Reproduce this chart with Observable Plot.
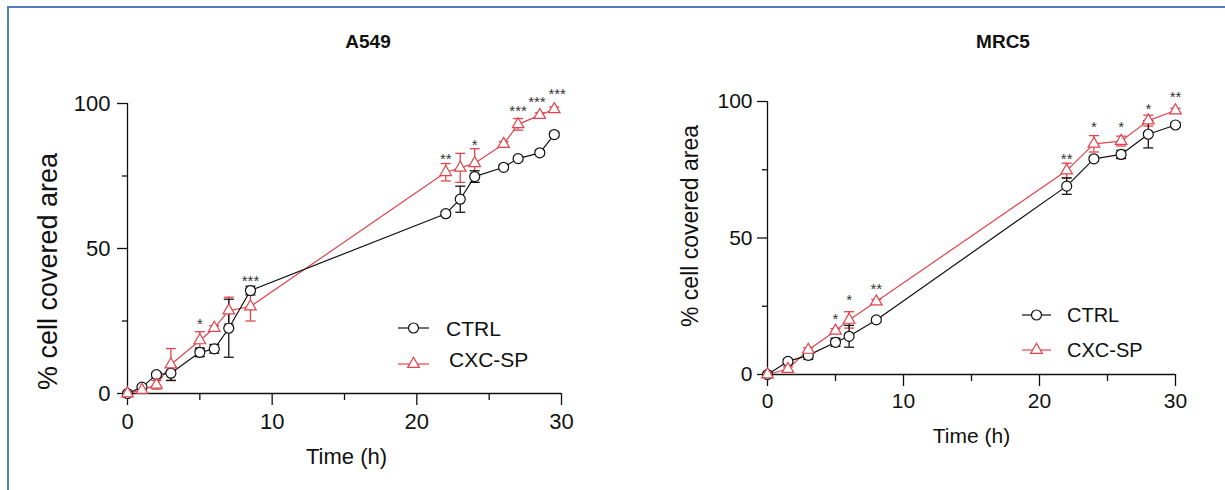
<!DOCTYPE html>
<html><head><meta charset="utf-8">
<script src="https://cdn.jsdelivr.net/npm/d3@7"></script>
<script src="https://cdn.jsdelivr.net/npm/@observablehq/plot@0.6"></script>
<style>
body{margin:0;background:#fff;font-family:Arial,"Liberation Sans",sans-serif;}
#page{position:relative;width:1225px;height:490px;overflow:hidden;background:#fff;}
#border{position:absolute;left:7px;top:6px;width:1300px;height:600px;border-left:2px solid #4f7fbf;border-top:2px solid #4f7fbf;}
.panel{position:absolute;top:0;}
.title{position:absolute;font-weight:bold;font-size:19px;line-height:1;transform:translateX(-50%);color:#111;}
.leg{position:absolute;line-height:1;transform:translateY(-50%);color:#111;white-space:nowrap;}
.sw{position:absolute;}
</style></head>
<body><div id="page"><div id="border"></div></div>
<script>
// ---------- data: A549 ----------
const timeA = [0, 1, 2, 3, 5, 6, 7, 8.5, 22, 23, 24, 26, 27, 28.5, 29.5];
const ctrlA = [0, 2.2, 6.5, 7, 14.2, 15.4, 22.5, 35.5, 62, 67, 74.8, 78, 81, 83, 89.3];
const ctrlAErr = [0, 0.8, 0.8, 2.5, 1.5, 1.5, 10, 1.5, 0.8, 4.5, 2, 0.8, 0.8, 0.8, 0.8];
const cxcA = [0, 1.2, 3, 10, 18.3, 22.6, 28.6, 30, 76.3, 77.8, 79.4, 86, 92.8, 96, 98];
const cxcAErr = [0, 0.5, 1.5, 5.5, 3, 0.8, 4.6, 5, 3, 5, 5, 0.8, 2, 0.8, 0.8];
const starTimeA = [5, 8.5, 22, 24, 27, 28.3, 29.7];
const starTextA = ["*", "***", "**", "*", "***", "***", "***"];
const starLevelA = [25.4, 40.1, 82.1, 86.9, 98.9, 101.9, 104.5];

// ---------- data: MRC5 ----------
const timeM = [0, 1.5, 3, 5, 6, 8, 22, 24, 26, 28, 30];
const ctrlM = [0, 4.8, 7, 11.8, 14, 20, 69, 79, 80.6, 88, 91.4];
const ctrlMErr = [0, 0.8, 1.5, 1.5, 4, 0.8, 3, 0.8, 1.5, 5, 0.8];
const cxcM = [0, 2, 9, 16, 20, 26.7, 74.7, 84.5, 85.5, 93, 96.7];
const cxcMErr = [0, 0.8, 0.8, 0.8, 3, 0.8, 2.7, 3, 1.8, 2, 0.8];
const starTimeM = [5, 6, 8, 22, 24, 26, 28, 30];
const starTextM = ["*", "*", "**", "**", "*", "*", "*", "**"];
const starLevelM = [21.9, 28.7, 32.6, 80.2, 92, 92, 98.5, 103.2];

const xTicks = [0, 10, 20, 30];
const xMinor = [5, 15, 25];
const yTicks = [0, 50, 100];
const yMinor = [25, 75];
const seriesNames = ["CTRL", "CXC-SP"];

const BLACK = "#111";
const RED = "#e2434b";
const FONT = "Arial, 'Liberation Sans', sans-serif";

const capSymbol = {draw(ctx) { ctx.moveTo(-5, 0); ctx.lineTo(5, 0); }};

function rows(t, v, e) { return t.map((d, i) => ({t: d, v: v[i], e: e[i]})); }

function seriesMarks(data, color) {
  const withErr = data.filter(d => d.e > 0);
  return [
    Plot.line(data, {x: "t", y: "v", stroke: color, strokeWidth: 1.2}),
    Plot.ruleX(withErr, {x: "t", y1: d => d.v - d.e, y2: d => d.v + d.e, stroke: color, strokeWidth: 1.3}),
    Plot.dot(withErr, {x: "t", y: d => d.v + d.e, symbol: capSymbol, stroke: color, fill: "none", strokeWidth: 1.3}),
    Plot.dot(withErr, {x: "t", y: d => d.v - d.e, symbol: capSymbol, stroke: color, fill: "none", strokeWidth: 1.3})
  ];
}
function dotMarks(data, color, symbol, r) {
  return Plot.dot(data, {x: "t", y: "v", symbol, r, stroke: color, fill: "white", strokeWidth: 1.2});
}

function panel(cfg) {
  const ctrl = rows(cfg.time, cfg.ctrl, cfg.ctrlErr);
  const cxc = rows(cfg.time, cfg.cxc, cfg.cxcErr);
  const stars = cfg.starTime.map((t, i) => ({t, s: cfg.starText[i], y: cfg.starLevel[i]}));
  return Plot.plot({
    width: cfg.width, height: 490,
    marginLeft: cfg.ml, marginRight: cfg.mr, marginTop: cfg.mt, marginBottom: cfg.mb,
    x: {domain: [0, 30]},
    y: {domain: [0, 100]},
    style: {fontFamily: FONT, background: "transparent", overflow: "visible", color: BLACK},
    marks: [
      Plot.ruleX([0], {stroke: BLACK, strokeWidth: 1.3}),
      Plot.ruleY([0], {stroke: BLACK, strokeWidth: 1.3}),
      Plot.axisY({ticks: yTicks, tickSize: 10, tickPadding: cfg.yPad, fontSize: cfg.tickFont, label: null, stroke: BLACK, strokeWidth: 1.3}),
      Plot.axisY({ticks: yMinor, tickSize: 5, tickFormat: () => "", label: null, stroke: BLACK, strokeWidth: 1.3}),
      Plot.axisX({ticks: xTicks, tickSize: 12, tickPadding: cfg.xPad, fontSize: cfg.tickFont, label: null, stroke: BLACK, strokeWidth: 1.3}),
      Plot.axisX({ticks: xMinor, tickSize: 7, tickFormat: () => "", label: null, stroke: BLACK, strokeWidth: 1.3}),
      Plot.text(["Time (h)"], {text: d => d, frameAnchor: "bottom", lineAnchor: "top", dy: cfg.xLabDy, dx: cfg.xLabDx, fontSize: cfg.xLabFont, fill: BLACK}),
      Plot.text(["% cell covered area"], {text: d => d, frameAnchor: "left", textAnchor: "middle", rotate: -90, dx: cfg.yLabDx, dy: cfg.yLabDy, fontSize: cfg.yLabFont, fill: BLACK}),
      ...seriesMarks(cxc, RED),
      ...seriesMarks(ctrl, BLACK),
      dotMarks(ctrl, BLACK, "circle", 5),
      dotMarks(cxc, RED, "triangle", 4.3),
      Plot.text(stars, {x: "t", y: "y", text: "s", fontSize: 15, fill: "#333", dy: 4})
    ]
  });
}

const page = document.getElementById("page");

function place(el, left) {
  const d = document.createElement("div");
  d.className = "panel";
  d.style.left = left + "px";
  d.appendChild(el);
  page.appendChild(d);
}

place(panel({
  time: timeA, ctrl: ctrlA, ctrlErr: ctrlAErr, cxc: cxcA, cxcErr: cxcAErr,
  starTime: starTimeA, starText: starTextA, starLevel: starLevelA,
  width: 612, ml: 127, mr: 51, mt: 103, mb: 97,
  tickFont: 22, yPad: 7, xPad: 8,
  xLabDy: 55, xLabDx: 2, xLabFont: 22,
  yLabDx: -79, yLabDy: 23, yLabFont: 27
}), 0);

place(panel({
  time: timeM, ctrl: ctrlM, ctrlErr: ctrlMErr, cxc: cxcM, cxcErr: cxcMErr,
  starTime: starTimeM, starText: starTextM, starLevel: starLevelM,
  width: 613, ml: 155, mr: 50, mt: 101, mb: 116,
  tickFont: 21, yPad: 5, xPad: 7,
  xLabDy: 54, xLabDx: 0, xLabFont: 21,
  yLabDx: -77, yLabDy: -12, yLabFont: 23
}), 612);

// titles
function title(text, cx, top) {
  const d = document.createElement("div");
  d.className = "title"; d.textContent = text;
  d.style.left = cx + "px"; d.style.top = top + "px";
  page.appendChild(d);
}
title("A549", 368, 32);
title("MRC5", 1003, 32);

// legends
function swatch(left, cy, w, color, kind) {
  const ns = "http://www.w3.org/2000/svg";
  const s = document.createElementNS(ns, "svg");
  s.setAttribute("width", w); s.setAttribute("height", 16);
  s.setAttribute("class", "sw");
  s.style.left = left + "px"; s.style.top = (cy - 8) + "px";
  const l = document.createElementNS(ns, "line");
  l.setAttribute("x1", 0); l.setAttribute("x2", w); l.setAttribute("y1", 8); l.setAttribute("y2", 8);
  l.setAttribute("stroke", color); l.setAttribute("stroke-width", 1.2);
  s.appendChild(l);
  const p = document.createElementNS(ns, "path");
  const sym = kind === "circle" ? d3.symbolCircle : d3.symbolTriangle;
  const r = kind === "circle" ? 5 : 4.3;
  p.setAttribute("d", d3.symbol(sym, Math.PI * r * r)());
  p.setAttribute("transform", `translate(${w / 2},8)`);
  p.setAttribute("fill", "white"); p.setAttribute("stroke", color); p.setAttribute("stroke-width", 1.2);
  s.appendChild(p);
  page.appendChild(s);
}
function legText(text, left, cy, size) {
  const d = document.createElement("div");
  d.className = "leg"; d.textContent = text;
  d.style.left = left + "px"; d.style.top = cy + "px"; d.style.fontSize = size + "px";
  page.appendChild(d);
}
swatch(398, 328, 31, BLACK, "circle");
legText(seriesNames[0], 446, 328, 21);
swatch(398, 364, 31, RED, "triangle");
legText(seriesNames[1], 449, 359, 21);

swatch(1022, 315, 29, BLACK, "circle");
legText(seriesNames[0], 1067, 315, 20);
swatch(1022, 350, 29, RED, "triangle");
legText(seriesNames[1], 1067, 350, 20);
</script>
</body></html>
